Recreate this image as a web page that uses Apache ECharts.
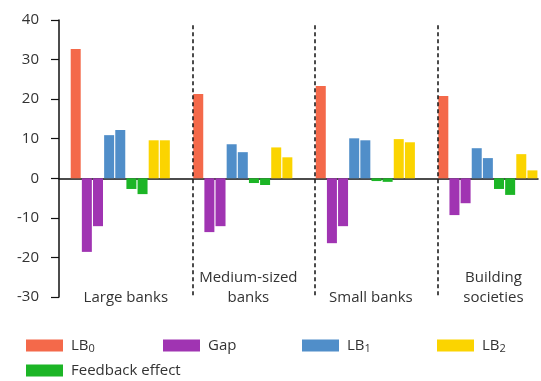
<!DOCTYPE html>
<html>
<head>
<meta charset="utf-8">
<script src="https://cdn.jsdelivr.net/npm/echarts@6/dist/echarts.min.js"></script>
<style>
html,body{margin:0;padding:0;background:#fff;}
#chart{width:541px;height:381px;}
</style>
</head>
<body>
<div id="chart"></div>
<script>
// Data
const groups = ['Large banks', 'Medium-sized\nbanks', 'Small banks', 'Building\nsocieties'];
const lb0 = [32.7, 21.3, 23.3, 20.8];
const gap = [[-18.6, -12.1], [-13.6, -12.1], [-16.4, -12.1], [-9.3, -6.3]];
const lb1 = [[10.9, 12.2], [8.6, 6.6], [10.1, 9.6], [7.6, 5.1]];
const feedback = [[-2.7, -4.0], [-1.2, -1.7], [-0.7, -0.9], [-2.7, -4.2]];
const lb2 = [[9.6, 9.6], [7.8, 5.3], [9.9, 9.1], [6.1, 2.0]];
const yTicks = { min: -30, max: 40, interval: 10 };

// slot layout: each group uses 9 bar slots + 2 empty slots
const SLOTS_PER_GROUP = 11;
const FIRST_SLOT = 1;
const NSLOTS = FIRST_SLOT + SLOTS_PER_GROUP * (groups.length - 1) + 9;
const slotNames = Array.from({length: NSLOTS}, (_, i) => 's' + i);

function emptyData() { return Array.from({length: NSLOTS}, () => '-'); }
function place(values, offsets) {
  const d = emptyData();
  values.forEach((v, g) => {
    const arr = Array.isArray(v) ? v : [v];
    arr.forEach((val, k) => { d[FIRST_SLOT + g * SLOTS_PER_GROUP + offsets[k]] = val; });
  });
  return d;
}

const labelPos = {};
groups.forEach((name, g) => { labelPos[FIRST_SLOT + g * SLOTS_PER_GROUP + 5] = name; });
const dividers = groups.slice(1).map((_, g) => FIRST_SLOT + (g + 1) * SLOTS_PER_GROUP);

const colors = {
  LB0: '#f4694a', Gap: '#a034b2', LB1: '#508ec9', LB2: '#fbd400', 'Feedback effect': '#1cb526'
};
const FONT = 'Open Sans';
const TXT = '#333333';

function barSeries(name, data) {
  return {
    name, type: 'bar', data, xAxisIndex: 0, yAxisIndex: 0,
    barWidth: 10, barGap: '-100%',
    itemStyle: { color: colors[name] }, silent: true, animation: false
  };
}

const chart = echarts.init(document.getElementById('chart'), null, {renderer: 'canvas'});
chart.setOption({
  animation: false,
  grid: { left: 59, right: 2, top: 20, bottom: 84, containLabel: false },
  xAxis: [
    {
      type: 'category', data: slotNames, boundaryGap: true,
      axisLine: { onZero: true, lineStyle: { color: '#111', width: 1.5 } },
      axisTick: { show: false }, axisLabel: { show: false }, splitLine: { show: false }
    },
    {
      type: 'value', min: 0, max: NSLOTS, interval: 1, position: 'bottom',
      axisLine: { show: false }, axisTick: { show: false }, splitLine: { show: false },
      axisLabel: {
        show: true, margin: 11, verticalAlign: 'bottom', lineHeight: 20,
        fontFamily: FONT, fontSize: 15, color: TXT,
        showMinLabel: true, showMaxLabel: true,
        formatter: v => labelPos[Math.round(v * 10) / 10] || ''
      }
    }
  ],
  yAxis: {
    type: 'value', min: yTicks.min, max: yTicks.max, interval: yTicks.interval,
    axisLine: { show: true, onZero: false, lineStyle: { color: '#111', width: 1.5 } },
    axisTick: { show: true, length: 8, lineStyle: { color: '#111', width: 1.2 } },
    splitLine: { show: false },
    axisLabel: { margin: 20, fontFamily: FONT, fontSize: 15, color: TXT }
  },
  legend: {
    left: 26, top: 333, width: 515, padding: 0, itemGap: 0, itemWidth: 37, itemHeight: 12,
    icon: 'rect', selectedMode: false,
    textStyle: {
      fontFamily: FONT, fontSize: 15, color: TXT, lineHeight: 25, padding: [0, 0, 0, 3],
      rich: { s: { fontFamily: FONT, fontSize: 11, color: TXT, verticalAlign: 'middle', lineHeight: 14, padding: [7, 0, 0, 0] } }
    },
    formatter: n => n.startsWith('LB') ? 'LB{s|' + n.slice(2) + '}' : n,
    data: [
      { name: 'LB0', textStyle: { width: 92 } },
      { name: 'Gap', textStyle: { width: 94 } },
      { name: 'LB1', textStyle: { width: 90 } },
      { name: 'LB2', textStyle: { width: 40 } },
      { name: 'Feedback effect' }
    ]
  },
  series: [
    barSeries('LB0', place(lb0, [0])),
    barSeries('Gap', place(gap, [1, 2])),
    barSeries('LB1', place(lb1, [3, 4])),
    barSeries('Feedback effect', place(feedback, [5, 6])),
    barSeries('LB2', place(lb2, [7, 8])),
    {
      type: 'line', data: [], xAxisIndex: 1, yAxisIndex: 0, silent: true,
      markLine: {
        silent: true, symbol: 'none', animation: false, label: { show: false },
        lineStyle: { color: '#111', width: 1.5, type: [4, 3] },
        data: dividers.map(x => [{ coord: [x, 38.7] }, { coord: [x, yTicks.min] }])
      }
    }
  ]
});
</script>
</body>
</html>
